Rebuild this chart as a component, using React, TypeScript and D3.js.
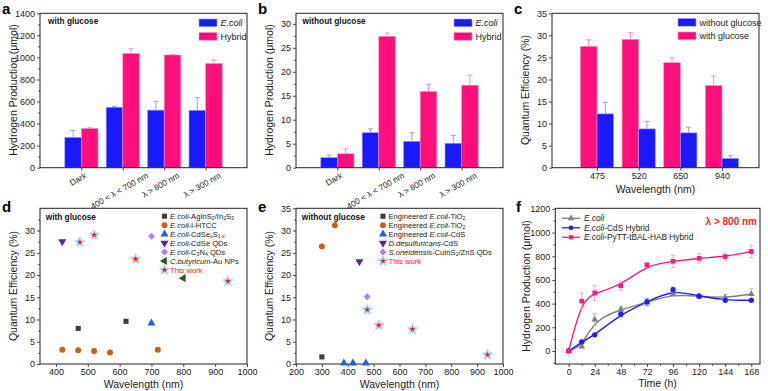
import React, { useEffect, useRef } from 'react'
import * as d3 from 'd3'

// ---------- data ----------
const conditions = ['Dark', '400 < λ < 700 nm', 'λ > 800 nm', 'λ > 300 nm']
const glucoseEcoli = [275, 548, 522, 520]
const glucoseEcoliErr = [62, 6, 80, 115]
const glucoseHybrid = [356, 1035, 1022, 945]
const glucoseHybridErr = [6, 43, 4, 33]
const starvedEcoli = [2.1, 7.3, 5.5, 5.1]
const starvedEcoliErr = [0.5, 0.8, 1.8, 1.6]
const starvedHybrid = [2.9, 27.4, 15.9, 17.2]
const starvedHybridErr = [1.0, 0.7, 1.5, 2.1]

const qeWavelengths = ['475', '520', '650', '940']
const qeWithGlucose = [27.5, 29.1, 23.8, 18.6]
const qeWithGlucoseErr = [1.5, 1.5, 1.1, 2.2]
const qeWithoutGlucose = [12.2, 8.8, 7.9, 2.1]
const qeWithoutGlucoseErr = [2.6, 1.7, 1.3, 0.6]

// literature comparison, [wavelength (nm), QE (%)]
const litAgInS = [[470, 8.0], [620, 9.6]]
const litHTCC = [[420, 3.2], [470, 3.1], [520, 2.9], [570, 2.6], [720, 3.2]]
const litCdSeS = [[700, 9.2]]
const litCdSeQD = [[420, 27.5]]
const litC3N4 = [[700, 28.7]]
const litAuNP = [[800, 19.3]]
const thisWorkGlucose = [[475, 27.4], [520, 29.0], [650, 23.6], [940, 18.6]]

const litTiO2Square = [[300, 1.6]]
const litTiO2Circle = [[300, 26.4], [350, 31.2]]
const litCdS = [[385, 0.2], [420, 0.2], [470, 0.2]]
const litDesulf = [[445, 23.0]]
const litCuInS = [[475, 15.1]]
const thisWorkNoGlucose = [[475, 12.2], [520, 8.7], [650, 7.8], [940, 2.1]]

const hours = [0, 12, 24, 48, 72, 96, 120, 144, 168]
const h2Ecoli = [0, 38, 265, 350, 410, 480, 462, 448, 480]
const h2EcoliErr = [0, 12, 50, 22, 30, 20, 20, 30, 45]
const h2CdS = [0, 76, 136, 310, 415, 518, 463, 428, 428]
const h2CdSErr = [0, 10, 12, 22, 30, 22, 14, 12, 10]
const h2PyTT = [0, 421, 490, 551, 727, 757, 783, 797, 840]
const h2PyTTErr = [0, 68, 62, 35, 15, 52, 40, 30, 52]

const FONT = 'Liberation Sans, Arial, Helvetica, sans-serif'
const BLUE = '#1a1aff'
const PINK = '#ff0f7b'
const BLUE_ERR = '#9a9aff'
const PINK_ERR = '#ff8cbf'
const fmt = d3.format('d')

// [text, style] style: '' normal, 'i' italic, 's' subscript
type Seg = [string, string]

function richText(t: any, segs: Seg[]) {
  let down = false
  segs.forEach(([s, st]) => {
    const ts = t.append('tspan').text(s)
    if (st === 'i') ts.attr('font-style', 'italic')
    if (st === 's') {
      ts.attr('font-size', '0.68em')
      if (!down) { ts.attr('dy', 1.5); down = true }
    } else if (down) { ts.attr('dy', -1.5); down = false }
  })
}

function frame(g: any, box: any, x: any, y: any, yTicks: number[], yMinor: number[], xTicks: any[] | null, xMinor: number[]) {
  const ya = g.append('g').attr('transform', `translate(${box.l},0)`)
    .call(d3.axisLeft(y).tickValues(yTicks).tickSize(3).tickPadding(2).tickSizeOuter(0).tickFormat((d: any) => fmt(d)))
  ya.select('.domain').remove()
  ya.selectAll('text').attr('font-size', 9).attr('font-family', FONT).attr('fill', '#222')
  if (yMinor.length) {
    const ym = g.append('g').attr('transform', `translate(${box.l},0)`)
      .call(d3.axisLeft(y).tickValues(yMinor).tickSize(1.8).tickFormat(() => ''))
    ym.select('.domain').remove()
  }
  const xa = g.append('g').attr('transform', `translate(0,${box.b})`)
  if (xTicks) {
    xa.call(d3.axisBottom(x).tickValues(xTicks).tickSize(3).tickPadding(2).tickSizeOuter(0)
      .tickFormat((d: any) => (typeof d === 'number' ? fmt(d) : d)))
    xa.selectAll('text').attr('font-size', 9).attr('font-family', FONT).attr('fill', '#222')
  } else {
    xa.call(d3.axisBottom(x).tickSize(3).tickFormat(() => '').tickSizeOuter(0))
  }
  xa.select('.domain').remove()
  if (xMinor.length) {
    const xm = g.append('g').attr('transform', `translate(0,${box.b})`)
      .call(d3.axisBottom(x).tickValues(xMinor).tickSize(1.8).tickFormat(() => ''))
    xm.select('.domain').remove()
  }
  g.selectAll('.tick line').attr('stroke', '#222').attr('stroke-width', 0.8)
  g.append('rect').attr('x', box.l).attr('y', box.t).attr('width', box.r - box.l).attr('height', box.b - box.t)
    .attr('fill', 'none').attr('stroke', '#222').attr('stroke-width', 1)
}

function yTitle(g: any, x: number, cy: number, label: string) {
  g.append('text').attr('transform', `translate(${x},${cy}) rotate(-90)`).attr('text-anchor', 'middle')
    .attr('dy', '0.35em').attr('font-size', 10.5).attr('font-family', FONT).attr('fill', '#222').text(label)
}

function xTitle(g: any, cx: number, yb: number, label: string) {
  g.append('text').attr('x', cx).attr('y', yb).attr('text-anchor', 'middle')
    .attr('font-size', 10.5).attr('font-family', FONT).attr('fill', '#222').text(label)
}

function letter(g: any, x: number, y: number, s: string) {
  g.append('text').attr('x', x).attr('y', y).attr('font-size', 15).attr('font-weight', 'bold')
    .attr('font-family', FONT).attr('fill', '#000').text(s)
}

function note(g: any, x: number, y: number, s: string) {
  g.append('text').attr('x', x).attr('y', y).attr('font-size', 8.3).attr('font-weight', 'bold')
    .attr('font-family', FONT).attr('fill', '#111').text(s)
}

function drawBars(g: any, box: any, cats: string[], range: [number, number], yMax: number,
  yTicks: number[], yMinor: number[], series: any[], rotated: boolean) {
  const x = d3.scalePoint().domain(cats).range(range)
  const y = d3.scaleLinear().domain([0, yMax]).range([box.b, box.t])
  const bw = 16.6
  series.forEach((s, si) => {
    const off = si === 0 ? -bw : 0
    g.selectAll(null).data(s.values).enter().append('line')
      .attr('x1', (d: number, i: number) => (x(cats[i]) as number) + off + bw / 2)
      .attr('x2', (d: number, i: number) => (x(cats[i]) as number) + off + bw / 2)
      .attr('y1', (d: number) => y(d))
      .attr('y2', (d: number, i: number) => y(d + s.errs[i]))
      .attr('stroke', s.err).attr('stroke-width', 1)
    g.selectAll(null).data(s.values).enter().append('line')
      .attr('x1', (d: number, i: number) => (x(cats[i]) as number) + off + bw / 2 - 2.5)
      .attr('x2', (d: number, i: number) => (x(cats[i]) as number) + off + bw / 2 + 2.5)
      .attr('y1', (d: number, i: number) => y(d + s.errs[i]))
      .attr('y2', (d: number, i: number) => y(d + s.errs[i]))
      .attr('stroke', s.err).attr('stroke-width', 1)
    g.selectAll(null).data(s.values).enter().append('rect')
      .attr('x', (d: number, i: number) => (x(cats[i]) as number) + off)
      .attr('y', (d: number) => y(d))
      .attr('width', bw)
      .attr('height', (d: number) => box.b - y(d))
      .attr('fill', s.color).attr('stroke', s.err).attr('stroke-width', 0.6)
  })
  frame(g, box, x, y, yTicks, yMinor, rotated ? null : cats, [])
  if (rotated) {
    cats.forEach((c) => {
      const t = g.append('text').attr('font-size', 8.3).attr('font-family', FONT).attr('fill', '#222')
        .attr('text-anchor', 'end').text(c)
      const L = (t.node() as SVGTextElement).getComputedTextLength()
      const px = (x(c) as number) + L * 0.866 / 2 - 2
      t.attr('transform', `translate(${px},${box.b + 9.5}) rotate(-30)`)
    })
  }
  return { x, y }
}

function swatchLegend(g: any, x0: number, y0: number, items: any[]) {
  items.forEach((it, i) => {
    const yy = y0 + i * 13.5
    g.append('rect').attr('x', x0).attr('y', yy).attr('width', 18).attr('height', 7.7)
      .attr('fill', it.color).attr('stroke', it.err).attr('stroke-width', 0.6)
    const t = g.append('text').attr('x', x0 + 21.5).attr('y', yy + 7).attr('font-size', 9)
      .attr('font-family', FONT).attr('fill', '#222')
    richText(t, it.label)
  })
}

const markers: any = {
  square: { type: d3.symbolSquare, size: 26, rot: 0 },
  circle: { type: d3.symbolCircle, size: 28, rot: 0 },
  up: { type: d3.symbolTriangle, size: 28, rot: 0 },
  down: { type: d3.symbolTriangle, size: 28, rot: 180 },
  diamond: { type: d3.symbolSquare, size: 24, rot: 45 },
  left: { type: d3.symbolTriangle, size: 28, rot: -90 },
  star: { type: d3.symbolStar, size: 11, rot: 0 },
}

function marker(g: any, kind: string, color: string, cx: number, cy: number) {
  const m = markers[kind]
  if (kind === 'star') {
    g.append('path').attr('d', d3.symbol().type(d3.symbolStar).size(22)())
      .attr('transform', `translate(${cx},${cy})`).attr('fill', '#8fd0ff')
      .attr('stroke', '#a9dcff').attr('stroke-width', 2.2).attr('stroke-linejoin', 'round')
  }
  g.append('path').attr('d', d3.symbol().type(m.type).size(m.size)())
    .attr('transform', `translate(${cx},${cy}) rotate(${m.rot})`).attr('fill', color)
}

function drawScatter(g: any, box: any, xDomain: [number, number], xTicks: number[], yTicks: number[],
  series: any[], legX: number, legY: number, legStep: number) {
  const x = d3.scaleLinear().domain(xDomain).range([box.l, box.r])
  const y = d3.scaleLinear().domain([0, 35]).range([box.b, box.t])
  frame(g, box, x, y, yTicks, d3.range(2.5, 35, 5), xTicks, [])
  series.forEach((s) => {
    s.points.forEach((p: number[]) => marker(g, s.kind, s.color, x(p[0]), y(p[1])))
  })
  series.forEach((s, i) => {
    const yy = legY + i * legStep
    marker(g, s.kind, s.color, legX, yy)
    const t = g.append('text').attr('x', legX + 5.5).attr('y', yy + 2.7).attr('font-size', 7.6)
      .attr('font-family', FONT).attr('fill', s.kind === 'star' ? '#ff2020' : '#222')
    richText(t, s.label)
  })
}

export default function App() {
  const ref = useRef<SVGSVGElement>(null)

  useEffect(() => {
    const svg = d3.select(ref.current)
    svg.selectAll('*').remove()

    // ---------- a ----------
    const boxA = { l: 40, r: 247, t: 13.3, b: 167.7 }
    const ga = svg.append('g')
    drawBars(ga, boxA, conditions, [boxA.l + 41.4, boxA.r - 41.4], 1400, d3.range(0, 1401, 200), d3.range(100, 1400, 200), [
      { values: glucoseEcoli, errs: glucoseEcoliErr, color: BLUE, err: BLUE_ERR },
      { values: glucoseHybrid, errs: glucoseHybridErr, color: PINK, err: PINK_ERR },
    ], true)
    swatchLegend(ga, 199, 19, [
      { color: BLUE, err: BLUE_ERR, label: [['E.coli', 'i']] },
      { color: PINK, err: PINK_ERR, label: [['Hybrid', '']] },
    ])
    note(ga, 48, 24, 'with glucose')
    yTitle(ga, 13, 90, 'Hydrogen Production (μmol)')
    letter(ga, 2, 14, 'a')

    // ---------- b ----------
    const boxB = { l: 296, r: 503, t: 13.3, b: 167.7 }
    const gb = svg.append('g')
    drawBars(gb, boxB, conditions, [boxB.l + 41.4, boxB.r - 41.4], 32.2, d3.range(0, 31, 5), d3.range(2.5, 32, 5), [
      { values: starvedEcoli, errs: starvedEcoliErr, color: BLUE, err: BLUE_ERR },
      { values: starvedHybrid, errs: starvedHybridErr, color: PINK, err: PINK_ERR },
    ], true)
    swatchLegend(gb, 454, 19, [
      { color: BLUE, err: BLUE_ERR, label: [['E.coli', 'i']] },
      { color: PINK, err: PINK_ERR, label: [['Hybrid', '']] },
    ])
    note(gb, 302.5, 24, 'without glucose')
    yTitle(gb, 269, 90, 'Hydrogen Production (μmol)')
    letter(gb, 258, 14, 'b')

    // ---------- c ----------
    const boxC = { l: 552, r: 759, t: 13.3, b: 167.7 }
    const gc = svg.append('g')
    drawBars(gc, boxC, qeWavelengths, [boxC.l + 45, boxC.r - 37], 35, d3.range(0, 36, 5), [], [
      { values: qeWithGlucose, errs: qeWithGlucoseErr, color: PINK, err: PINK_ERR },
      { values: qeWithoutGlucose, errs: qeWithoutGlucoseErr, color: BLUE, err: BLUE_ERR },
    ], false)
    swatchLegend(gc, 678, 18.5, [
      { color: BLUE, err: BLUE_ERR, label: [['without glucose', '']] },
      { color: PINK, err: PINK_ERR, label: [['with glucose', '']] },
    ])
    xTitle(gc, 655.5, 193, 'Wavelength (nm)')
    yTitle(gc, 525, 90, 'Quantum Efficiency (%)')
    letter(gc, 514, 14, 'c')

    // ---------- d ----------
    const boxD = { l: 40, r: 247, t: 208.3, b: 364 }
    const gd = svg.append('g')
    drawScatter(gd, boxD, [350, 1000], d3.range(400, 1001, 100), d3.range(0, 31, 5), [
      { kind: 'square', color: '#3c3c3c', points: litAgInS, label: [['E.coli', 'i'], ['-AgInS', ''], ['2', 's'], ['/In', ''], ['2', 's'], ['S', ''], ['3', 's']] },
      { kind: 'circle', color: '#c8601c', points: litHTCC, label: [['E.coli', 'i'], ['-I-HTCC', '']] },
      { kind: 'up', color: '#1f5fe0', points: litCdSeS, label: [['E.coli', 'i'], ['-CdSe', ''], ['x', 's'], ['S', ''], ['1-x', 's']] },
      { kind: 'down', color: '#5a2a90', points: litCdSeQD, label: [['E.coli', 'i'], ['-CdSe QDs', '']] },
      { kind: 'diamond', color: '#b57be6', points: litC3N4, label: [['E.coli', 'i'], ['-C', ''], ['3', 's'], ['N', ''], ['4', 's'], [' QDs', '']] },
      { kind: 'left', color: '#2c5a1c', points: litAuNP, label: [['C.butyricum', 'i'], ['-Au NPs', '']] },
      { kind: 'star', color: '#ff1010', points: thisWorkGlucose, label: [['This work', '']] },
    ], 164.5, 216.2, 8.95)
    note(gd, 45.7, 220, 'with glucose')
    xTitle(gd, 143.5, 388, 'Wavelength (nm)')
    yTitle(gd, 13, 286, 'Quantum Efficiency (%)')
    letter(gd, 2, 212, 'd')

    // ---------- e ----------
    const boxE = { l: 296, r: 503, t: 208.3, b: 364 }
    const ge = svg.append('g')
    drawScatter(ge, boxE, [200, 1000], d3.range(200, 1001, 100), d3.range(0, 36, 5), [
      { kind: 'square', color: '#3c3c3c', points: litTiO2Square, label: [['Engineered ', ''], ['E.coli', 'i'], ['-TiO', ''], ['2', 's']] },
      { kind: 'circle', color: '#c8601c', points: litTiO2Circle, label: [['Engineered ', ''], ['E.coli', 'i'], ['-TiO', ''], ['2', 's']] },
      { kind: 'up', color: '#1f5fe0', points: litCdS, label: [['Engineered ', ''], ['E.coli', 'i'], ['-CdS', '']] },
      { kind: 'down', color: '#5a2a90', points: litDesulf, label: [['D.desulfuricans', 'i'], ['-CdS', '']] },
      { kind: 'diamond', color: '#b57be6', points: litCuInS, label: [['S.oneidensis', 'i'], ['-CuInS', ''], ['2', 's'], ['/ZnS QDs', '']] },
      { kind: 'star', color: '#ff1010', points: thisWorkNoGlucose, label: [['This work', '']] },
    ], 383, 216.2, 8.95)
    note(ge, 301.7, 220, 'without glucose')
    xTitle(ge, 399.5, 388, 'Wavelength (nm)')
    yTitle(ge, 269, 286, 'Quantum Efficiency (%)')
    letter(ge, 258, 212, 'e')

    // ---------- f ----------
    const boxF = { l: 555.3, r: 760, t: 208.3, b: 364 }
    const gf = svg.append('g')
    const xf = d3.scaleLinear().domain([-12.3, 176]).range([boxF.l, boxF.r])
    const yf = d3.scaleLinear().domain([-110, 1205]).range([boxF.b, boxF.t])
    frame(gf, boxF, xf, yf, d3.range(0, 1201, 200), d3.range(-100, 1200, 200), d3.range(0, 169, 24), d3.range(12, 169, 24))
    const fSeries = [
      { values: h2Ecoli, errs: h2EcoliErr, color: '#7f7f7f', err: '#b5b5b5', kind: 'up', label: [['E.coli', 'i']] },
      { values: h2CdS, errs: h2CdSErr, color: '#1f1fff', err: '#8f8fff', kind: 'circle', label: [['E.coli', 'i'], ['-CdS Hybrid', '']] },
      { values: h2PyTT, errs: h2PyTTErr, color: '#ff1a80', err: '#ff9cc8', kind: 'square', label: [['E.coli', 'i'], ['-PyTT-tBAL-HAB Hybrid', '']] },
    ]
    const line = d3.line<number>().x((d, i) => xf(hours[i])).y((d) => yf(d)).curve(d3.curveBasis)
    fSeries.forEach((s) => {
      gf.append('path').attr('d', line(s.values)).attr('fill', 'none').attr('stroke', s.color).attr('stroke-width', 1.4)
      s.values.forEach((v, i) => {
        if (!s.errs[i]) return
        const cx = xf(hours[i])
        gf.append('line').attr('x1', cx).attr('x2', cx).attr('y1', yf(v - s.errs[i])).attr('y2', yf(v + s.errs[i]))
          .attr('stroke', s.err).attr('stroke-width', 0.9)
        ;[v - s.errs[i], v + s.errs[i]].forEach((e) => {
          gf.append('line').attr('x1', cx - 2.2).attr('x2', cx + 2.2).attr('y1', yf(e)).attr('y2', yf(e))
            .attr('stroke', s.err).attr('stroke-width', 0.9)
        })
      })
    })
    fSeries.forEach((s) => {
      s.values.forEach((v, i) => {
        const m = markers[s.kind]
        gf.append('path').attr('d', d3.symbol().type(m.type).size(s.kind === 'up' ? 20 : 22)())
          .attr('transform', `translate(${xf(hours[i])},${yf(v)})`).attr('fill', s.color)
      })
    })
    fSeries.forEach((s, i) => {
      const yy = 218.3 + i * 9.5
      gf.append('line').attr('x1', 562).attr('x2', 580).attr('y1', yy).attr('y2', yy)
        .attr('stroke', s.color).attr('stroke-width', 1.3)
      const m = markers[s.kind]
      gf.append('path').attr('d', d3.symbol().type(m.type).size(18)())
        .attr('transform', `translate(571,${yy})`).attr('fill', s.color)
      const t = gf.append('text').attr('x', 584).attr('y', yy + 3).attr('font-size', 8.3)
        .attr('font-family', FONT).attr('fill', '#222')
      richText(t, s.label as Seg[])
    })
    gf.append('text').attr('x', 757).attr('y', 224.5).attr('text-anchor', 'end').attr('font-size', 10)
      .attr('font-weight', 'bold').attr('font-family', FONT).attr('fill', '#ff1f1f').text('λ > 800 nm')
    xTitle(gf, 657.5, 387, 'Time (h)')
    yTitle(gf, 526, 286, 'Hydrogen Production (μmol)')
    letter(gf, 516, 212, 'f')
  }, [])

  return (
    <svg ref={ref} width={768} height={391}
      style={{ position: 'absolute', left: 0, top: 0, background: '#fff' }} />
  )
}
